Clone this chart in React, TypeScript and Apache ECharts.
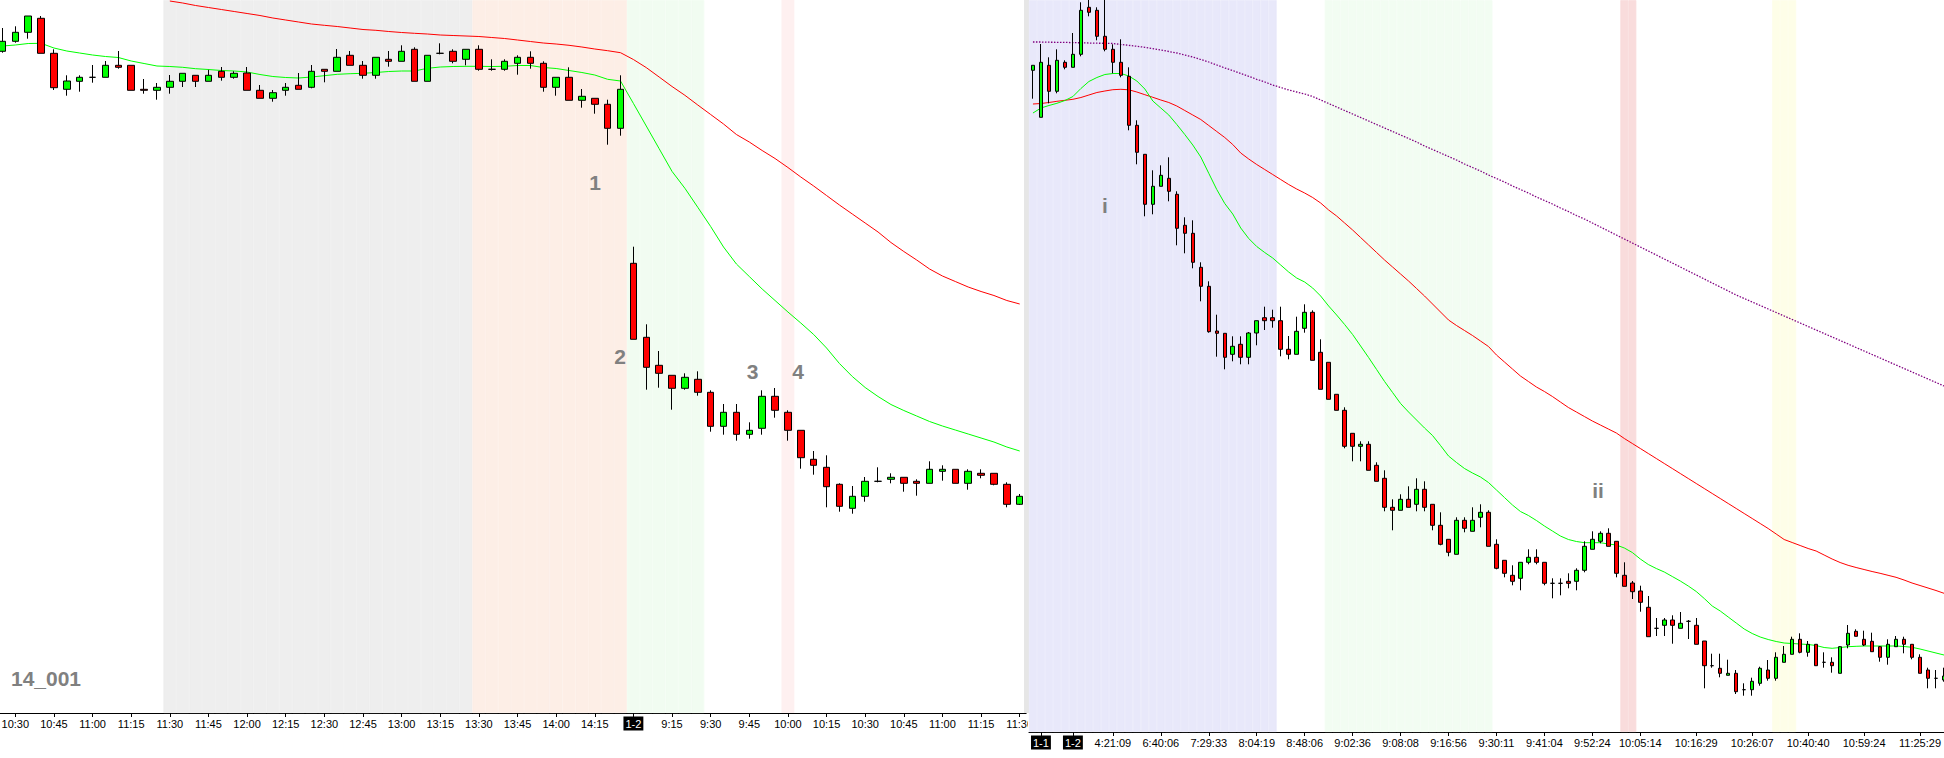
import React, { useEffect, useRef } from "react";
import * as echarts from "echarts";

// ---------- LEFT PANEL (5-minute bars, two sessions) ----------
const day1Times = [
  "10:25", "10:30", "10:35", "10:40", "10:45", "10:50", "10:55",
  "11:00", "11:05", "11:10", "11:15", "11:20", "11:25", "11:30", "11:35", "11:40", "11:45", "11:50", "11:55",
  "12:00", "12:05", "12:10", "12:15", "12:20", "12:25", "12:30", "12:35", "12:40", "12:45", "12:50", "12:55",
  "13:00", "13:05", "13:10", "13:15", "13:20", "13:25", "13:30", "13:35", "13:40", "13:45", "13:50", "13:55",
  "14:00", "14:05", "14:10", "14:15", "14:20", "14:25",
];
const day2Times = [
  "9:00", "9:05", "9:10", "9:15", "9:20", "9:25", "9:30", "9:35", "9:40", "9:45", "9:50", "9:55",
  "10:00", "10:05", "10:10", "10:15", "10:20", "10:25", "10:30", "10:35", "10:40", "10:45", "10:50", "10:55",
  "11:00", "11:05", "11:10", "11:15", "11:20", "11:25", "11:30",
];
const leftDayMark = "1-2";

// [open, close, low, high]
const leftCandles = [
  [661.7, 671.7, 660.3, 685], [671.7, 680.7, 670.3, 686.7], [680.7, 697, 674.3, 697], [694.7, 659.7, 659.7, 697],
  [659.7, 625.3, 623, 663.7], [623.7, 632, 617.3, 637.7], [631.7, 635.7, 621.3, 637.7], [635.7, 635.7, 630.3, 648],
  [635.7, 647.7, 635.7, 652], [647.7, 645.7, 644.3, 662], [647.7, 622.7, 622.7, 647.7], [623.7, 622.7, 619.3, 634],
  [622.7, 625.7, 613.3, 630], [625.7, 631.7, 619.3, 638], [631.7, 639.7, 626, 639.7], [637.7, 631.7, 626, 637.7],
  [631.7, 637.7, 631.7, 643.3], [641.7, 635.7, 632.3, 646], [635.7, 639.7, 634.3, 641.7], [640, 622.7, 622.7, 646],
  [622.7, 614.7, 614.7, 628], [614.7, 620.3, 611.3, 623], [622.7, 625.7, 617.3, 630], [627.7, 623.7, 623.7, 640],
  [625.7, 641.7, 624.7, 648], [643.7, 641.7, 630.7, 643.7], [641.7, 655.7, 641.7, 664], [657.7, 647.7, 647.7, 662],
  [647.7, 637.7, 634.3, 652], [637.7, 655.7, 634.3, 655.7], [653.7, 651.7, 646.3, 662], [651.7, 661.7, 651.7, 667.7],
  [663.7, 631.7, 631.7, 665.7], [631.7, 657.7, 631.7, 657.7], [659.7, 659.7, 658.7, 669.7], [661.7, 651.7, 649.7, 663.7],
  [653.7, 663.7, 647.7, 663.7], [663.7, 643.7, 642.3, 667.7], [643.7, 643.7, 642.3, 653.7], [643.7, 651.7, 642.3, 653.7],
  [649.7, 655.7, 638.3, 657.7], [655.7, 649.7, 644.3, 661.7], [649.7, 625.7, 621.3, 651.7], [625.7, 635.7, 617.3, 635.7],
  [635.7, 612.7, 612.7, 645.7], [612.7, 616.7, 605.3, 624], [614.7, 608.7, 599.3, 614.7], [608.7, 584.7, 568.3, 613.3],
  [584.7, 623.7, 577.3, 637.7],
  [449.7, 373.7, 373.7, 466.3], [375.7, 345.7, 323.3, 388.7], [347.7, 339.7, 325.3, 362], [337.7, 324.7, 303.3, 337.7],
  [324.7, 335.7, 323.3, 339.7], [333.7, 320.7, 317.3, 341.7], [320.7, 286.7, 281.3, 322.7], [286.7, 300.7, 278.3, 309],
  [300.7, 278.7, 272.3, 309], [278.7, 282.7, 274.3, 290.7], [284.7, 316.7, 278.3, 322.7], [316.7, 302.7, 295.3, 325],
  [300.7, 282.7, 272.3, 302.7], [282.7, 255.3, 244.3, 282.7], [253.7, 247.7, 238.3, 262], [245.7, 226.3, 205.7, 257.7],
  [228.7, 206.7, 201.3, 229.7], [204.7, 216.7, 199.3, 227], [216.7, 231.7, 211.3, 236], [231.7, 231.7, 230.7, 245.7],
  [233.7, 235.7, 229.7, 239.7], [235.7, 229.7, 221.3, 235.7], [231.7, 229.7, 217.3, 233.7], [229.7, 243.7, 229.7, 251.7],
  [241.7, 243.7, 232.3, 247.7], [243.7, 229.7, 229.7, 243.7], [229.7, 241.7, 223.3, 243.7], [239.7, 237.7, 234.7, 243.7],
  [239.7, 228.7, 227.7, 239.7], [228.7, 208.7, 205.7, 230.7], [208.7, 216.7, 208, 219],
];

const leftFast = [
  667, 668, 669.5, 669.7, 665, 662, 660, 658, 656.5, 655.5,
  652, 649.5, 647, 646.5, 645.7, 644.3, 643.5, 642.5, 642, 641,
  638.5, 636.5, 635.5, 635, 636, 637.3, 638.7, 639.3, 639.7, 640.5,
  641.5, 642, 642, 644.7, 646, 646.5, 646.7, 646.7, 646.5, 646.7,
  647.5, 647.5, 645.5, 644.5, 642.5, 640.5, 638, 633.7, 632, 609.6,
  587, 564.3, 541.6, 524.7, 505.7, 486.5, 466, 449, 436.5, 424,
  412.5, 401, 390, 378.5, 365, 349.5, 336.5, 325.5, 316.5, 308.5,
  302.5, 297, 291.5, 287, 283, 279, 275, 271, 266, 262,
];

const leftSlow: (number | string)[] = [
  "-", "-", "-", "-", "-", "-", "-", "-", "-", "-", "-", "-", "-",
  712, 710, 707.5, 705.5, 703.5, 701.5, 699.5, 697.5, 695, 693,
  691, 689, 687.7, 686.5, 685, 683.5, 682.7, 681.5, 680.5, 679.7,
  679, 678, 677.5, 677, 676.5, 675.5, 674.5, 673, 671.5, 670,
  669, 667.7, 666, 664, 662.3, 660.3, 653.5, 645.4, 636, 626.5,
  617.7, 608, 598.5, 589, 578.5, 571, 562.5, 554.5, 545.5, 536,
  527, 517.5, 508, 499, 490, 481, 470.5, 461.5, 453, 444,
  437, 431.5, 426, 421.5, 417.5, 412.5, 409,
];

// shaded sessions: [first bar, last bar, kind]
const leftBands: [number, number, string][] = [
  [13, 36, "gray"], [37, 48, "salmon"], [49, 54, "mint"], [61, 61, "blush"],
];

// ---------- RIGHT PANEL ----------
const rightCandles = [
  [661.7, 666.7, 633.3, 666.7], [614.7, 669.7, 614.7, 688], [666.7, 640.7, 628.7, 674.7], [640.7, 671.7, 638.7, 682.7],
  [669.7, 664.7, 662.7, 671.7], [664.7, 677.7, 664.7, 699], [677.7, 721.7, 675.7, 729.7], [724.7, 719.7, 715.7, 732],
  [721.7, 695.7, 691.7, 724.7], [695.7, 682.7, 680.7, 732], [682.7, 669.7, 658.7, 687.7], [669.7, 656.7, 654.7, 692.7],
  [655.7, 606.7, 601.7, 664.7], [606.7, 579.7, 567.7, 611.7], [577.7, 527.7, 515.7, 577.7], [527.7, 545.7, 517.7, 561.7],
  [545.7, 556.7, 545.7, 566.7], [553.7, 540.7, 530.7, 574.7], [537.7, 503.7, 486.7, 540.7], [506.7, 498.7, 478.7, 514.7],
  [498.7, 469.7, 463.7, 511.7], [464.7, 445.7, 430.7, 469.7], [445.7, 400.3, 399.3, 450.7], [401, 398.7, 375.3, 417.3],
  [398.7, 374.7, 362.7, 398.7], [377.7, 385.7, 370.7, 395.7], [387.7, 374.7, 367.7, 395.7], [374.7, 399, 367.7, 400],
  [399, 411.3, 386.7, 411.3], [414.3, 411.3, 402, 425.3], [414.3, 411.3, 404.3, 422.3], [411.3, 382.7, 375.7, 425.3],
  [382.7, 377.7, 372.7, 396], [377.7, 400.7, 377.7, 415.3], [403.7, 419.7, 399.3, 427.7], [419.7, 371.7, 371.7, 421.7],
  [379.7, 342.7, 342.7, 392.7], [369.7, 332.7, 332.7, 369.7], [337.7, 321.7, 321.7, 337.7], [321.7, 285.7, 283.7, 324.7],
  [298.7, 285.7, 270.7, 298.7], [285.7, 287.7, 270.7, 290.7], [287.7, 261.7, 261.7, 290.7], [266.7, 250.7, 250.7, 269.7],
  [253.7, 224.7, 220.7, 261.7], [224.7, 221.7, 201.7, 232.7], [221.7, 232.7, 221.7, 237.7], [232.7, 224.7, 224.7, 245.7],
  [227.7, 242.7, 220.7, 253.7], [242.7, 224.7, 220.7, 250.7], [227.7, 206.7, 201.7, 227.7], [206.7, 187.7, 186.7, 219.7],
  [192.7, 179.7, 175.7, 192.7], [177.7, 211.7, 177.7, 214.7], [211.7, 203.7, 199.7, 214.7], [200.7, 211.7, 200.7, 224.7],
  [214.7, 219.7, 204.7, 227.7], [219.7, 185.7, 185.7, 221.7], [187.7, 163.7, 162.7, 192.7], [171.7, 158.7, 154.7, 171.7],
  [156.7, 150.7, 146.7, 166.7], [153.7, 169.7, 141.7, 169.7], [169.7, 174.7, 167.7, 182.7], [174.7, 169.7, 167.7, 182.7],
  [169.7, 148.7, 146.7, 169.7], [148.7, 148.7, 133.7, 153.7], [148.7, 148.7, 136.7, 153.7], [150.7, 148.7, 143.7, 158.7],
  [150.7, 161.7, 141.7, 163.7], [161.7, 185.7, 159.7, 190.7], [182.7, 192.7, 182.7, 200.7], [190.7, 198.7, 188.7, 200.7],
  [198.7, 185.7, 185.7, 203.7], [190.7, 158.7, 154.7, 190.7], [156.7, 145.7, 145.7, 169.7], [149, 140.3, 133, 151],
  [141, 129.7, 120.3, 146.3], [124.7, 95.3, 95.3, 136], [103.7, 103.7, 96, 114], [106.7, 112, 96, 114],
  [112, 106.7, 88.3, 116.7], [103.7, 108.7, 103.7, 120], [110.7, 110.7, 93, 112], [106.7, 87.7, 87.7, 114],
  [91, 66.3, 43.7, 91], [66.3, 66.3, 64.3, 78.3], [63.7, 58.7, 54.7, 78.3], [56.7, 58.7, 56.7, 72.3],
  [58.7, 40.3, 38, 62], [42.3, 42.3, 36.3, 48.7], [42.3, 50.7, 36.3, 54.3], [48.7, 63.7, 46.3, 65.3],
  [62, 53.7, 51.3, 72], [53.7, 74.7, 51.3, 79.7], [69.7, 77.7, 69.7, 86], [77.7, 92.7, 77.7, 95.3],
  [92.7, 79.7, 78.7, 98.7], [79.7, 87.7, 75.3, 91], [87.7, 66.3, 66.3, 87.7], [69.7, 69.7, 64.3, 79.7],
  [69.7, 66.3, 59.3, 74.7], [58.7, 85.3, 58.7, 86], [87, 98.7, 83.7, 107], [100.7, 95.7, 95.7, 102.7],
  [92.7, 87, 86, 101.3], [90.7, 80.3, 80.3, 99.3], [85.3, 74.7, 70.3, 86], [74.7, 87.7, 67.3, 92.7],
  [85.3, 92.7, 85.3, 96], [92.7, 87.7, 78.7, 95.3], [87.7, 74.7, 72.7, 87.7], [74.7, 58.7, 58.7, 77.7],
  [62, 53.7, 43.7, 64.3], [53.7, 53.7, 43.7, 62], [52, 56, 50.3, 64.3],
];

const rightFast = [
  619, 624, 626.5, 628.7, 631.5, 635.5, 643.5, 650.5, 654.5, 657.5,
  658.5, 658.5, 656, 651, 643, 631, 624, 617, 607.5, 597.5,
  587, 575, 558.7, 542.5, 528.5, 518, 504, 493.5, 485.5, 479.5,
  474, 467, 460, 454, 450, 444, 436, 426, 417, 407.5,
  397.5, 386, 374.5, 362.5, 350.5, 339.5, 328.5, 320, 312, 304,
  296.5, 286.5, 276, 269.5, 263.5, 259, 255, 249.5, 242, 234.5,
  227, 220.5, 216.5, 211.5, 206, 201, 196, 192.5, 190.5, 189.3,
  189.3, 189.3, 188, 187, 184, 179.5, 173, 167.5, 163.5, 160,
  155.5, 151, 146, 140.5, 133.5, 126, 121, 115, 109, 103,
  98.5, 95, 92.5, 90.5, 89, 88.5, 88, 87.5, 86.5, 84.5,
  83.7, 84.5, 85.3, 85.7, 86, 86, 86, 86, 86, 85.5,
  84.7, 83, 81, 79, 77,
];

const rightSlow = [
  628, 628.5, 629.5, 630.7, 631.7, 632.7, 634.5, 637, 639.5, 641,
  642.3, 642.7, 642.2, 640, 637.3, 634.7, 632, 629.5, 626, 621.5,
  617, 612.5, 606.5, 600.5, 594.5, 587.5, 579, 573, 567.5, 562.5,
  557.5, 552.5, 547.5, 543, 539, 534.5, 529, 522, 516, 509,
  502, 494.5, 487, 479.5, 472, 465, 458, 451, 443.5, 436,
  428, 420, 412, 406.5, 401.5, 396.5, 391, 385.5, 377, 370,
  363, 356, 350.5, 345, 340.5, 335.5, 330, 324.5, 320, 315.5,
  311, 307, 303, 299, 293.5, 288.5, 283.5, 278.5, 273.5, 268.5,
  263.5, 258.5, 253.5, 248.5, 243.5, 238.5, 233.5, 228.5, 223.5, 218.5,
  213.5, 208.5, 203.5, 198, 192.5, 189.5, 186.5, 183.5, 181, 177,
  173, 169.5, 166.7, 164.5, 162.5, 160.5, 158.7, 156.7, 154.7, 152,
  149, 146.5, 144, 141.5, 138.7,
];

const rightTrend = [
  690, 690, 689.8, 689.7, 689.6, 689.4, 689.2, 689, 688.8, 688.7,
  688.5, 687.5, 686.7, 685.7, 684.7, 683.4, 682, 680.5, 679, 677,
  675, 672.5, 670, 667, 664, 661.5, 658.5, 655.7, 652.7, 650,
  647, 644.5, 642, 640, 638, 635.5, 632, 628.5, 625, 621.5,
  618, 614.5, 611, 607.5, 604, 600.5, 597, 593.5, 590, 586,
  582.5, 579, 575.5, 572, 568, 564.5, 561, 557, 553.5, 550,
  546, 542.5, 539, 535, 531.5, 528, 524, 520.5, 516.5, 513,
  509, 505, 501, 497, 493, 489, 485, 481, 477, 473,
  469, 465, 461, 457, 453, 449, 445, 441, 437, 433.5,
  430, 426.5, 423, 419.5, 416, 412.5, 409, 405.5, 402, 398.5,
  395, 391.5, 388, 384.5, 381, 377.5, 374, 370.5, 367, 363.5,
  360, 356.5, 353, 349.5, 346,
];

// bar index -> axis text
const rightTicks: [number, string][] = [
  [1, "1-1"], [5, "1-2"], [10, "4:21:09"], [16, "6:40:06"], [22, "7:29:33"], [28, "8:04:19"],
  [34, "8:48:06"], [40, "9:02:36"], [46, "9:08:08"], [52, "9:16:56"], [58, "9:30:11"], [64, "9:41:04"],
  [70, "9:52:24"], [76, "10:05:14"], [83, "10:16:29"], [90, "10:26:07"], [97, "10:40:40"],
  [104, "10:59:24"], [111, "11:25:29"],
];
const rightDayMarks = ["1-1", "1-2"];

const rightBands: [number, number, string][] = [
  [0, 30, "lavender"], [37, 57, "mint2"], [74, 75, "rose"], [93, 95, "cream"],
];

// ---------- styles ----------
const BAND_COLORS: Record<string, string> = {
  gray: "#EEEEEE", salmon: "#FDEEE6", mint: "#F1FCF1", blush: "#FEF0F0",
  lavender: "#E8E8FA", mint2: "#F2FDF2", rose: "#F9DCDC", cream: "#FEFEE8",
};
const UP = "#00FF00";
const DOWN = "#FF0000";
const FONT = "Liberation Sans";
const NOTE = { fill: "#808080", fontSize: 21, fontWeight: "bold", fontFamily: FONT };

function bandData(n: number, bands: [number, number, string][]) {
  const out: any[] = new Array(n).fill("-");
  bands.forEach(([a, b, k]) => {
    const c = BAND_COLORS[k];
    for (let i = a; i <= b; i++) {
      out[i] = { value: 1, itemStyle: { color: c, borderColor: c, borderWidth: a === b ? 0 : 0.8 } };
    }
  });
  return out;
}

const dayRich = {
  day: {
    backgroundColor: "#000", color: "#fff", fontSize: 11, fontFamily: FONT,
    padding: [2, 2, 1, 2], lineHeight: 11,
  },
};

function note(text: string, x: number, y: number) {
  return {
    type: "text", x, y, z: 100, zlevel: 0, silent: true,
    style: { text, ...NOTE, align: "center", verticalAlign: "middle", textAlign: "center", textVerticalAlign: "middle" },
  };
}

function series(candles: number[][], barWidth: number, lines: any[], bands: any[]) {
  return [
    {
      type: "bar", yAxisIndex: 1, data: bands, barCategoryGap: "0%", silent: true, z: 0,
    },
    ...lines,
    {
      type: "candlestick", data: candles, barWidth, z: 4,
      itemStyle: {
        color: UP, color0: DOWN, borderColor: "#000", borderColor0: "#000",
        borderColorDoji: "#000", borderWidth: 1,
      },
    },
  ];
}

function lineSeries(data: any[], color: string, extra: any = {}) {
  return {
    type: "line", data, symbol: "none", showSymbol: false, silent: true, z: 3,
    lineStyle: { color, width: 1, ...extra }, connectNulls: false,
  };
}

function leftOption() {
  const times = [...day1Times, ...day2Times];
  const cats = times.map((t, i) => (i < day1Times.length ? "1|" : "2|") + t);
  const dayStart = day1Times.length;
  const showIdx = (i: number) => i === dayStart || Number(times[i].split(":")[1]) % 15 === 0;
  return {
    animation: false,
    grid: { left: 0, top: 0, width: 1040, height: 713 },
    xAxis: {
      type: "category", data: cats, boundaryGap: true,
      axisLine: { show: true, lineStyle: { color: "#000", width: 1 } },
      axisTick: { show: true, alignWithLabel: true, length: 4, interval: (i: number) => showIdx(i), lineStyle: { color: "#000" } },
      axisLabel: {
        interval: (i: number) => showIdx(i),
        formatter: (_v: string, i: number) => (i === dayStart ? `{day|${leftDayMark}}` : times[i]),
        color: "#000", fontSize: 11, fontFamily: FONT, margin: 5, rich: dayRich,
      },
      splitLine: { show: false },
    },
    yAxis: [
      { type: "value", min: 0, max: 713, show: false },
      { type: "value", min: 0, max: 1, show: false },
    ],
    series: series(
      leftCandles, 7,
      [lineSeries(leftFast, "#00FF00"), lineSeries(leftSlow, "#FF0000")],
      bandData(cats.length, leftBands)
    ),
    graphic: {
      elements: [
        note("1", 599, 182), note("2", 624, 356), note("3", 756.5, 371.5), note("4", 802, 371.5),
        note("14_001", 50, 678),
      ],
    },
  };
}

function rightOption() {
  const cats = rightCandles.map((_, i) => String(i));
  const tickMap = new Map(rightTicks);
  return {
    animation: false,
    grid: { left: 0, top: 0, width: 920, height: 732 },
    xAxis: {
      type: "category", data: cats, boundaryGap: true,
      axisLine: { show: true, lineStyle: { color: "#000", width: 1 } },
      axisTick: { show: true, alignWithLabel: true, length: 4, interval: (i: number) => tickMap.has(i), lineStyle: { color: "#000" } },
      axisLabel: {
        interval: (i: number) => tickMap.has(i),
        formatter: (_v: string, i: number) => {
          const t = tickMap.get(i) ?? "";
          return rightDayMarks.includes(t) ? `{day|${t}}` : t;
        },
        color: "#000", fontSize: 11, fontFamily: FONT, margin: 5, rich: dayRich,
      },
      splitLine: { show: false },
    },
    yAxis: [
      { type: "value", min: 0, max: 732, show: false },
      { type: "value", min: 0, max: 1, show: false },
    ],
    series: series(
      rightCandles, 4,
      [
        lineSeries(rightTrend, "#800080", { type: [1.5, 1.5], width: 1.3 }),
        lineSeries(rightSlow, "#FF0000"),
        lineSeries(rightFast, "#00FF00"),
      ],
      bandData(cats.length, rightBands)
    ),
    graphic: { elements: [note("i", 77, 205), note("ii", 570, 490)] },
  };
}

export default function App() {
  const leftRef = useRef<HTMLDivElement>(null);
  const rightRef = useRef<HTMLDivElement>(null);
  useEffect(() => {
    const l = echarts.init(leftRef.current!, undefined, { renderer: "svg" });
    const r = echarts.init(rightRef.current!, undefined, { renderer: "svg" });
    l.setOption(leftOption() as any);
    r.setOption(rightOption() as any);
    return () => {
      l.dispose();
      r.dispose();
    };
  }, []);
  return (
    <div style={{ position: "fixed", left: 0, top: 0, width: 1944, height: 758, overflow: "hidden", background: "#fff" }}>
      <div style={{ position: "absolute", left: 1023.5, top: 0, width: 5, height: 713, background: "#E6E6E6" }} />
      <div style={{ position: "absolute", left: 0, top: 0, width: 1028, height: 758, overflow: "hidden" }}>
        <div ref={leftRef} style={{ position: "absolute", left: -4, top: 0, width: 1040, height: 758 }} />
      </div>
      <div style={{ position: "absolute", left: 1028, top: 0, width: 916, height: 758, overflow: "hidden" }}>
        <div ref={rightRef} style={{ position: "absolute", left: 0, top: 0, width: 920, height: 758 }} />
      </div>
    </div>
  );
}
